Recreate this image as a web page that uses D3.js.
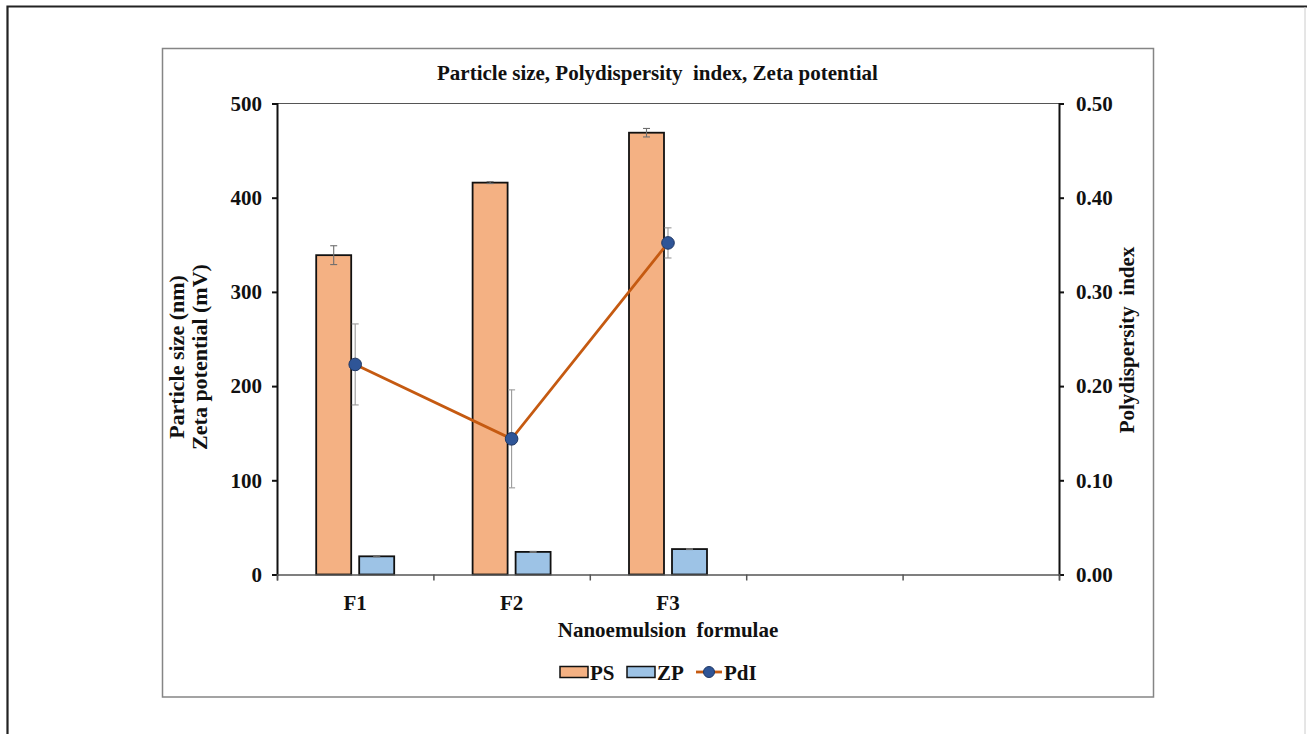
<!DOCTYPE html>
<html>
<head>
<meta charset="utf-8">
<script src="https://cdn.jsdelivr.net/npm/d3@7"></script>
<style>
  body { margin: 0; background: #fff; }
  svg text { font-family: "Liberation Serif", "Times New Roman", serif; font-weight: bold; fill: #111; }
</style>
</head>
<body>
<div id="chart"></div>
<script>
// Chart values
var categories = ["F1", "F2", "F3", "", ""];
var psValues = [339, 416, 469];
var psErrors = [10, 1, 4.5];
var zpValues = [19.3, 24, 27];
var zpErrors = [0.5, 0.5, 0.5];
var pdiValues = [0.223, 0.144, 0.352];
var pdiErrors = [0.043, 0.052, 0.016];
var leftTicks = [0, 100, 200, 300, 400, 500];
var rightTicks = [0, 0.1, 0.2, 0.3, 0.4, 0.5];

const W = 1307, H = 734;
const plot = { left: 277, top: 103.5, right: 1059, bottom: 574.5 };
const fs = 21;

var svg = d3.select("#chart").append("svg")
    .attr("width", W)
    .attr("height", H);

svg.append("rect").attr("width", W).attr("height", H).attr("fill", "#fff");

// Outer page frame
svg.append("path")
    .attr("d", "M7.5," + (H + 5) + " V6.5 H" + W)
    .attr("fill", "none").attr("stroke", "#222").attr("stroke-width", 2.2);
svg.append("line")
    .attr("x1", 1305).attr("x2", 1305).attr("y1", 7).attr("y2", H)
    .attr("stroke", "#ccc").attr("stroke-width", 1);

// Chart area border
svg.append("rect")
    .attr("x", 162.5).attr("y", 48.5).attr("width", 991).attr("height", 648.5)
    .attr("fill", "none").attr("stroke", "#858585").attr("stroke-width", 1.5);

// Scales
const x = d3.scaleBand()
    .domain(d3.range(categories.length))
    .range([plot.left, plot.right]);
const xEdge = d3.scaleLinear()
    .domain([0, categories.length])
    .range([plot.left, plot.right]);
const yLeft = d3.scaleLinear().domain([0, 500]).range([plot.bottom, plot.top]);
const yRight = d3.scaleLinear().domain([0, 0.5]).range([plot.bottom, plot.top]);

// Top frame line of the plot
svg.append("line")
    .attr("x1", plot.left).attr("x2", plot.right)
    .attr("y1", plot.top).attr("y2", plot.top)
    .attr("stroke", "#555").attr("stroke-width", 1.2);

// Bars
const barW = 35;
const barOffPS = -39;  // offset of PS bar from band centre
const barOffZP = 4;

var barData = psValues.map((v, i) => ({ i: i, ps: v, psErr: psErrors[i], zp: zpValues[i], zpErr: zpErrors[i] }));
const cx = i => x(i) + x.bandwidth() / 2;

svg.selectAll(".ps")
    .data(barData)
    .enter().append("rect")
    .attr("class", "ps")
    .attr("x", d => cx(d.i) + barOffPS)
    .attr("y", d => yLeft(d.ps))
    .attr("width", barW)
    .attr("height", d => yLeft(0) - yLeft(d.ps))
    .attr("fill", "#F4B183")
    .attr("stroke", "#111")
    .attr("stroke-width", 1.8);

svg.selectAll(".zp")
    .data(barData)
    .enter().append("rect")
    .attr("class", "zp")
    .attr("x", d => cx(d.i) + barOffZP)
    .attr("y", d => yLeft(d.zp))
    .attr("width", barW)
    .attr("height", d => yLeft(0) - yLeft(d.zp))
    .attr("fill", "#9DC3E6")
    .attr("stroke", "#111")
    .attr("stroke-width", 1.8);

// Error bars helper
function errorBar(g, xc, y1, y2, color, cap) {
    g.append("line").attr("x1", xc).attr("x2", xc).attr("y1", y1).attr("y2", y2)
        .attr("stroke", color).attr("stroke-width", 1.1);
    [y1, y2].forEach(yy => {
        g.append("line").attr("x1", xc - cap).attr("x2", xc + cap).attr("y1", yy).attr("y2", yy)
            .attr("stroke", color).attr("stroke-width", 1.1);
    });
}

var errG = svg.append("g");
barData.forEach(d => {
    errorBar(errG, cx(d.i) + barOffPS + barW / 2, yLeft(d.ps + d.psErr), yLeft(d.ps - d.psErr), "#6e6e6e", 3.5);
    errorBar(errG, cx(d.i) + barOffZP + barW / 2, yLeft(d.zp + d.zpErr), yLeft(d.zp - d.zpErr), "#6e6e6e", 3.5);
});

function styleText(g) {
    g.selectAll("text").attr("font-size", fs).attr("fill", "#111")
        .style("font-family", "Liberation Serif, serif").style("font-weight", "bold");
}

// Axes
svg.append("g")
    .attr("transform", "translate(" + plot.left + ",0)")
    .call(d3.axisLeft(yLeft).tickValues(leftTicks).tickSize(5).tickPadding(10))
    .call(g => g.select(".domain").attr("stroke", "#111").attr("stroke-width", 2))
    .call(g => g.selectAll(".tick line").attr("stroke", "#111").attr("stroke-width", 2))
    .call(styleText);

svg.append("g")
    .attr("transform", "translate(" + plot.right + ",0)")
    .call(d3.axisRight(yRight).tickValues(rightTicks).tickSize(5).tickPadding(12).tickFormat(d3.format(".2f")))
    .call(g => g.select(".domain").attr("stroke", "#111").attr("stroke-width", 2))
    .call(g => g.selectAll(".tick line").attr("stroke", "#111").attr("stroke-width", 2))
    .call(styleText);

// Bottom axis: boundary ticks
svg.append("g")
    .attr("transform", "translate(0," + plot.bottom + ")")
    .call(d3.axisBottom(xEdge).ticks(categories.length).tickSize(6).tickFormat(""))
    .call(g => g.select(".domain").attr("stroke", "#555").attr("stroke-width", 1.5))
    .call(g => g.selectAll(".tick line").attr("stroke", "#555").attr("stroke-width", 1.5));

// Bottom axis: category labels
svg.append("g")
    .attr("transform", "translate(0," + plot.bottom + ")")
    .call(d3.axisBottom(x).tickSize(0).tickPadding(21).tickFormat(i => categories[i]))
    .call(g => g.select(".domain").remove())
    .call(styleText);

// PdI line + error bars + markers
var pdiData = pdiValues.map((v, i) => ({ i: i, v: v, e: pdiErrors[i] }));
var pdiG = svg.append("g");
pdiData.forEach(d => errorBar(pdiG, cx(d.i), yRight(d.v + d.e), yRight(d.v - d.e), "#9a9a9a", 3.5));

pdiG.append("path")
    .datum(pdiData)
    .attr("fill", "none")
    .attr("stroke", "#C55A11")
    .attr("stroke-width", 2.8)
    .attr("d", d3.line().x(d => cx(d.i)).y(d => yRight(d.v)));

pdiG.selectAll("circle")
    .data(pdiData)
    .enter().append("circle")
    .attr("cx", d => cx(d.i))
    .attr("cy", d => yRight(d.v))
    .attr("r", 6.3)
    .attr("fill", "#2F5597")
    .attr("stroke", "#203864")
    .attr("stroke-width", 1);

// Titles
svg.append("text")
    .attr("x", 657.5).attr("y", 80)
    .attr("text-anchor", "middle")
    .attr("font-size", fs)
    .text("Particle size, Polydispersity\u00a0 index, Zeta potential");

svg.append("text")
    .attr("x", (plot.left + plot.right) / 2).attr("y", 637)
    .attr("text-anchor", "middle")
    .attr("font-size", fs)
    .text("Nanoemulsion\u00a0 formulae");

var yl = svg.append("text")
    .attr("transform", "translate(184,357) rotate(-90)")
    .attr("text-anchor", "middle")
    .attr("font-size", 22);
yl.append("tspan").attr("x", 0).attr("dy", 0).text("Particle size (nm)");
yl.append("tspan").attr("x", 0).attr("dy", 23).text("Zeta potential (mV)");

svg.append("text")
    .attr("transform", "translate(1134,340) rotate(-90)")
    .attr("text-anchor", "middle")
    .attr("font-size", fs)
    .text("Polydispersity\u00a0 index");

// Legend
var leg = svg.append("g").attr("transform", "translate(0,672)");
leg.append("rect").attr("x", 560).attr("y", -5.5).attr("width", 28).attr("height", 11)
    .attr("fill", "#F4B183").attr("stroke", "#111").attr("stroke-width", 1.5);
leg.append("text").attr("x", 590).attr("y", 7.5).attr("font-size", fs).text("PS");
leg.append("rect").attr("x", 627).attr("y", -5.5).attr("width", 28).attr("height", 11)
    .attr("fill", "#9DC3E6").attr("stroke", "#111").attr("stroke-width", 1.5);
leg.append("text").attr("x", 657).attr("y", 7.5).attr("font-size", fs).text("ZP");
leg.append("line").attr("x1", 696).attr("x2", 722).attr("y1", 0).attr("y2", 0)
    .attr("stroke", "#C55A11").attr("stroke-width", 2.8);
leg.append("circle").attr("cx", 709).attr("cy", 0).attr("r", 5.5)
    .attr("fill", "#2F5597").attr("stroke", "#203864");
leg.append("text").attr("x", 724).attr("y", 7.5).attr("font-size", fs).text("PdI");
</script>
</body>
</html>
